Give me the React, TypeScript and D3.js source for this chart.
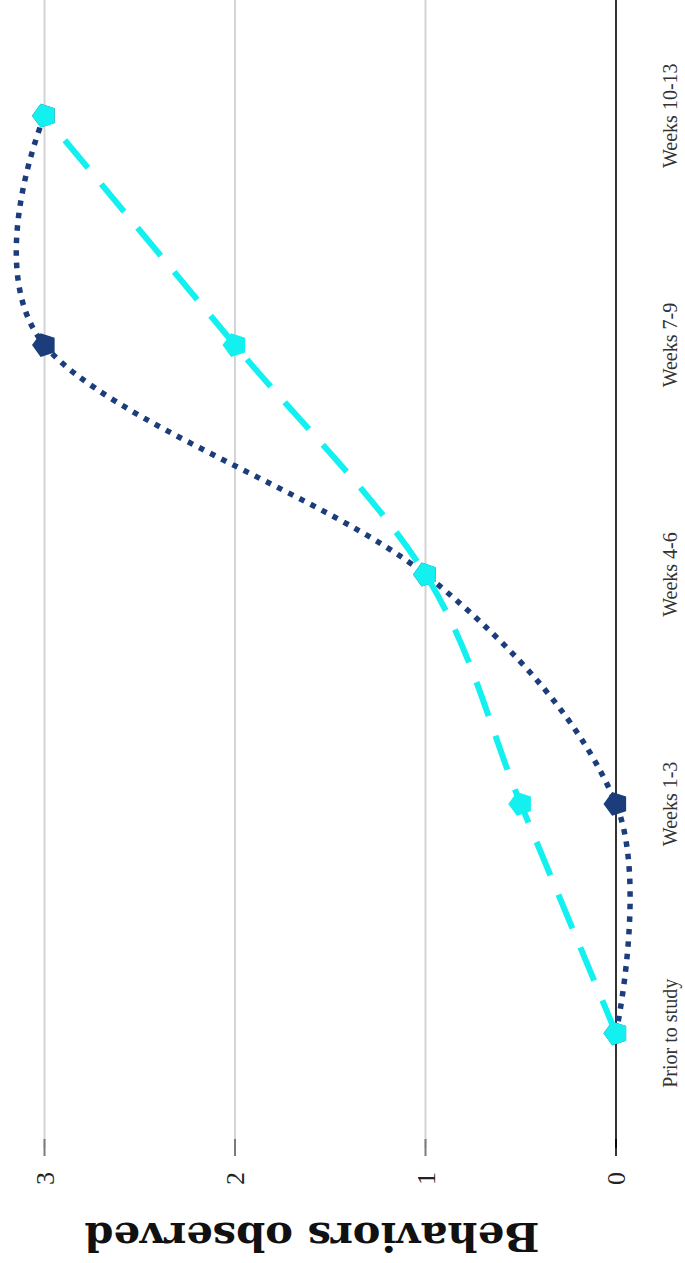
import React from "react";
import * as d3 from "d3";

const categories = ["Prior to study", "Weeks 1-3", "Weeks 4-6", "Weeks 7-9", "Weeks 10-13"];
const seriesDark = [0, 0, 1, 3, 3];
const seriesCyan = [0, 0.5, 1, 2, 3];
const valueTicks = [0, 1, 2, 3];
const yTitle = "Behaviors observed";

const W = 685;
const H = 1263;
const DARK = "#1b3d7b";
const CYAN = "#12f0f0";

function pentagon(cx: number, cy: number, r: number) {
  const pts: string[] = [];
  for (let k = 0; k < 5; k++) {
    const a = Math.PI + (k * 2 * Math.PI) / 5;
    pts.push(`${cx + r * Math.cos(a)},${cy + r * Math.sin(a)}`);
  }
  return pts.join(" ");
}

export default function App() {
  // chart is rotated: value axis runs horizontally (0 at right), categories run vertically (first at bottom)
  const x = d3.scaleLinear().domain([0, 3]).range([616, 44.5]);
  const y = d3.scalePoint<string>().domain(categories).range([1148, 1]).padding(0.5);
  const plotBottom = 1148;

  const line = d3
    .line<number>()
    .x((v) => x(v))
    .y((_, i) => y(categories[i]) as number)
    .curve(d3.curveCardinal.tension(0));

  return (
    <svg
      width={W}
      height={H}
      style={{ position: "absolute", left: 0, top: 0, background: "#fff" }}
    >
      {/* gridlines */}
      {valueTicks.map((v) => (
        <g key={"g" + v}>
          <line
            x1={x(v)}
            x2={x(v)}
            y1={0}
            y2={plotBottom}
            stroke={v === 0 ? "#000" : "#d4d4d4"}
            strokeWidth={v === 0 ? 1.6 : 2}
          />
          <line
            x1={x(v)}
            x2={x(v)}
            y1={plotBottom - 9}
            y2={plotBottom + 8}
            stroke={v === 0 ? "#000" : "#7a7a7a"}
            strokeWidth={v === 0 ? 1.6 : 2}
          />
          <text
            transform={`translate(${x(v)}, ${plotBottom + 24}) rotate(-90)`}
            textAnchor="end"
            dy="0.35em"
            fontFamily="'Liberation Serif', serif"
            fontSize={26}
            fill="#222"
          >
            {v}
          </text>
        </g>
      ))}

      {/* category labels */}
      {categories.map((c) => (
        <text
          key={c}
          transform={`translate(677, ${y(c)}) rotate(-90)`}
          textAnchor="middle"
          fontFamily="'Liberation Serif', serif"
          fontSize={20}
          fill="#333"
        >
          {c}
        </text>
      ))}

      {/* dark series */}
      <path
        d={line(seriesDark) || ""}
        fill="none"
        stroke={DARK}
        strokeWidth={5.5}
        strokeDasharray="5.5 7"
      />
      {seriesDark.map((v, i) => (
        <polygon
          key={"d" + i}
          points={pentagon(x(v), y(categories[i]) as number, 12.5)}
          fill={DARK}
        />
      ))}

      {/* cyan series */}
      <path
        d={line(seriesCyan) || ""}
        fill="none"
        stroke={CYAN}
        strokeWidth={6}
        strokeDasharray="36 21"
      />
      {seriesCyan.map((v, i) => (
        <polygon
          key={"c" + i}
          points={pentagon(x(v), y(categories[i]) as number, 12.5)}
          fill={CYAN}
        />
      ))}

      {/* axis title, upside down */}
      <text
        transform={`translate(312, 1223) rotate(180)`}
        textAnchor="middle"
        fontFamily="'DejaVu Serif', serif"
        fontWeight="bold"
        fontSize={40}
        textLength={455}
        lengthAdjust="spacingAndGlyphs"
        fill="#111"
      >
        {yTitle}
      </text>
    </svg>
  );
}
